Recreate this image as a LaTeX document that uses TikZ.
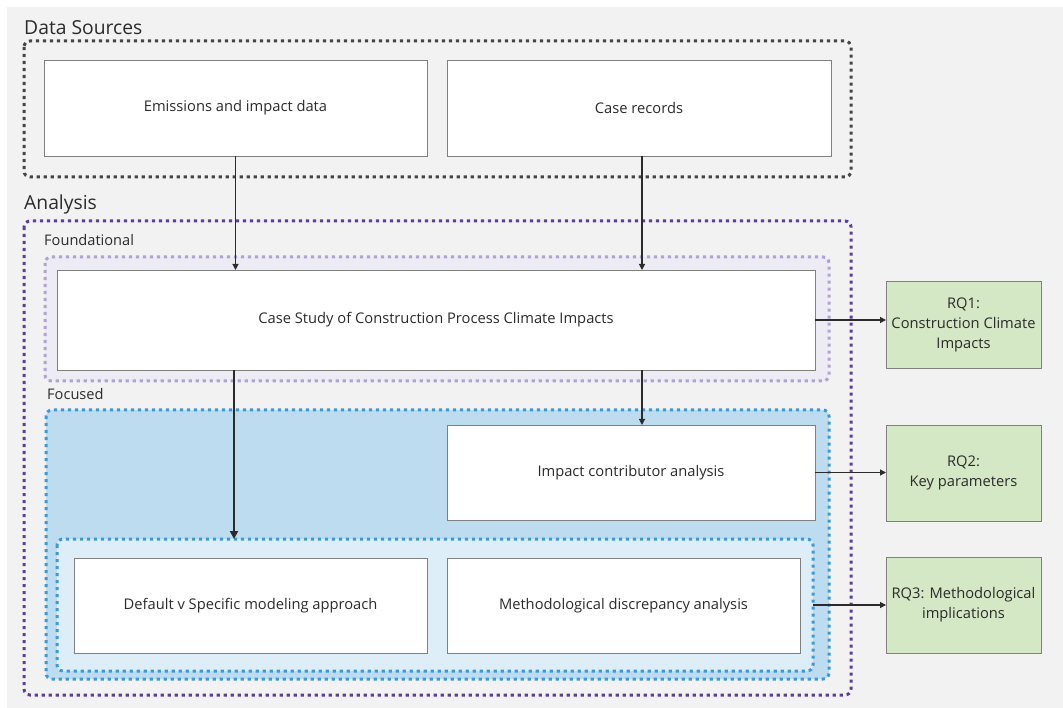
\documentclass[tikz,border=0pt]{standalone}
\usepackage{fontspec}
\setmainfont{Open Sans}
\usetikzlibrary{arrows.meta}
\definecolor{bggray}{HTML}{F2F2F2}
\definecolor{dsgray}{HTML}{454545}
\definecolor{anpurple}{HTML}{5B3D9E}
\definecolor{fdpurple}{HTML}{B0A2D4}
\definecolor{fdfill}{HTML}{EDEBF4}
\definecolor{fcblue}{HTML}{3A9AD9}
\definecolor{fcfill}{HTML}{BDDCF0}
\definecolor{infill}{HTML}{DEEEF8}
\definecolor{rqgreen}{HTML}{D5E8C5}
\definecolor{boxline}{HTML}{808080}
\definecolor{txt}{HTML}{2B2B2B}
\tikzset{
  container/.style={line width=3pt, dash pattern=on 3.2pt off 3.8pt, rounded corners=6pt},
  box/.style={draw=boxline, fill=white, line width=0.9pt, outer sep=0pt, inner sep=0pt,
    text=txt, font=\fontsize{14.7}{18}\selectfont, align=center},
  rqbox/.style={draw=boxline, fill=rqgreen, line width=0.9pt, outer sep=0pt, inner sep=0pt,
    text=txt, font=\fontsize{14.7}{20}\selectfont, align=center,
    minimum width=155pt},
  title/.style={anchor=base west, inner sep=0pt, text=txt, font=\fontsize{19.3}{22}\selectfont},
  sublabel/.style={anchor=base west, inner sep=0pt, text=txt, font=\fontsize{14.6}{16}\selectfont},
  arr/.style={-{Triangle[length=6pt,width=6pt]}, line width=1.2pt, color=txt},
  thickarr/.style={-{Triangle[length=8pt,width=8pt]}, line width=2.4pt, color=txt}
}
\begin{document}
\begin{tikzpicture}[x=1pt,y=-1pt]
\useasboundingbox (0,0) rectangle (1063,708);
\fill[bggray] (7,7) rectangle (1063,708);

% containers
\draw[container, draw=dsgray] (24,41) rectangle (851,177);
\draw[container, draw=anpurple] (24,221) rectangle (851,695);
\draw[container, draw=fdpurple, fill=fdfill] (45,257) rectangle (829,381);
\draw[container, draw=fcblue, fill=fcfill] (46,410) rectangle (829,679);
\draw[container, draw=fcblue, fill=infill] (57,539) rectangle (813,671);

% titles
\node[title] (tds) at (24,35) {Data Sources};
\node[title] (tan) at (24,210) {Analysis};
\node[sublabel] (tfd) at (44,246) {Foundational};
\node[sublabel] (tfc) at (47,400) {Focused};

% boxes
\node[box, minimum width=383pt, minimum height=96pt] (em) at (235.5,108) {Emissions and impact data};
\node[box, minimum width=384pt, minimum height=96pt] (cr) at (639,108) {Case records};
\node[box, minimum width=758pt, minimum height=100pt] (cs) at (436,320) {Case Study of Construction Process Climate Impacts};
\node[box, minimum width=368pt, minimum height=95pt] (ic) at (631,472.5) {Impact contributor analysis};
\node[box, minimum width=353pt, minimum height=95pt] (dm) at (250.5,605.5) {Default v Specific modeling approach};
\node[box, minimum width=353pt, minimum height=95pt] (md) at (623.5,605.5) {Methodological discrepancy analysis};

\node[rqbox, minimum height=87pt] (rq1) at (963.5,324.5) {RQ1:\\Construction Climate\\Impacts};
\node[rqbox, minimum height=96pt] (rq2) at (963.5,473) {RQ2:\\Key parameters};
\node[rqbox, minimum height=96pt] (rq3) at (963.5,605) {RQ3: Methodological\\implications};

\coordinate (inTop) at (234,539);
\coordinate (inRight) at (813,605);

% connectors
\draw[arr] (em.south) -- (em.south |- cs.north);
\draw[arr] (642,156) coordinate (crb) -- (crb |- cs.north);
\draw[thickarr] (cs.south -| inTop) -- (inTop);
\draw[arr] (cs.south -| crb) -- (crb |- ic.north);
\draw[arr] (cs.east |- 0,320) -- (rq1.west |- 0,320);
\draw[arr] (ic.east) -- (rq2.west |- ic.east);
\draw[arr] (inRight) -- (rq3.west |- inRight);
\end{tikzpicture}
\end{document}
